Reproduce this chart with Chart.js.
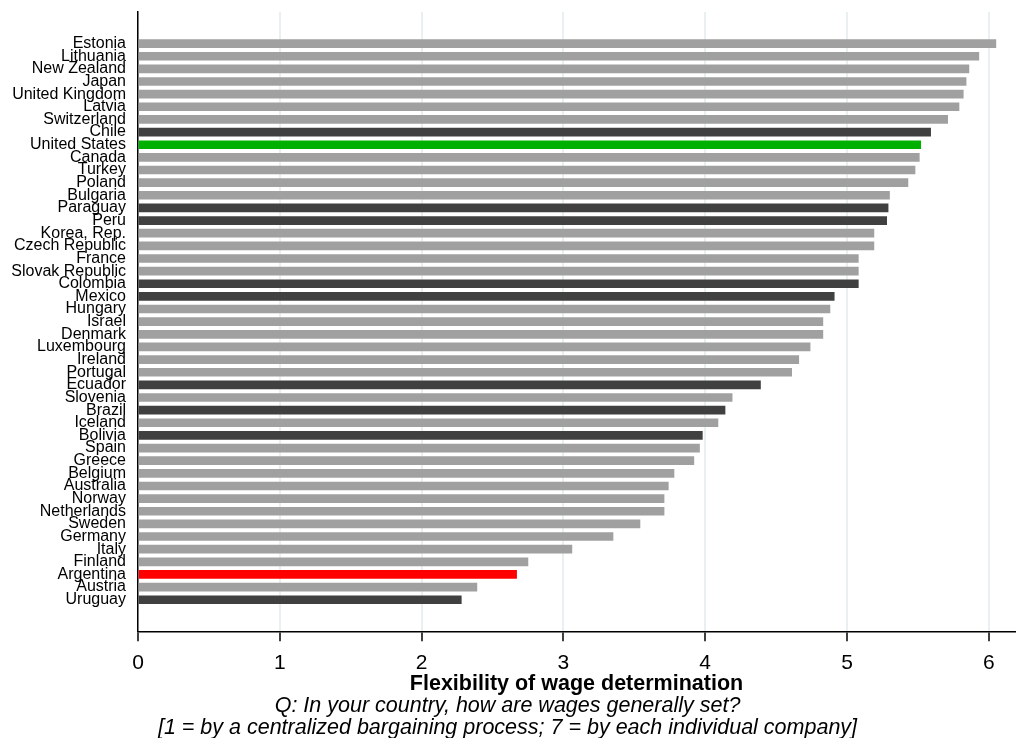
<!DOCTYPE html>
<html>
<head>
<meta charset="utf-8">
<script src="https://cdn.jsdelivr.net/npm/chart.js@4"></script>
<style>
  html, body { margin: 0; padding: 0; background: #ffffff; }
  #wrap { width: 1017px; height: 738px; }
</style>
</head>
<body>
<div id="wrap"><canvas id="c"></canvas></div>
<script>
const countries = ["Estonia","Lithuania","New Zealand","Japan","United Kingdom","Latvia","Switzerland","Chile","United States","Canada","Turkey","Poland","Bulgaria","Paraguay","Peru","Korea, Rep.","Czech Republic","France","Slovak Republic","Colombia","Mexico","Hungary","Israel","Denmark","Luxembourg","Ireland","Portugal","Ecuador","Slovenia","Brazil","Iceland","Bolivia","Spain","Greece","Belgium","Australia","Norway","Netherlands","Sweden","Germany","Italy","Finland","Argentina","Austria","Uruguay"];
const values = [6.05,5.93,5.86,5.84,5.82,5.79,5.71,5.59,5.52,5.51,5.48,5.43,5.30,5.29,5.28,5.19,5.19,5.08,5.08,5.08,4.91,4.88,4.83,4.83,4.74,4.66,4.61,4.39,4.19,4.14,4.09,3.98,3.96,3.92,3.78,3.74,3.71,3.71,3.54,3.35,3.06,2.75,2.67,2.39,2.28];
const groups = ["other","other","other","other","other","other","other","latam","us","other","other","other","other","latam","latam","other","other","other","other","latam","latam","other","other","other","other","other","other","latam","other","latam","other","latam","other","other","other","other","other","other","other","other","other","other","argentina","other","latam"];
const xTicks = [0,1,2,3,4,5,6];
const xTitle = "Flexibility of wage determination";
const subtitleLines = ["Q: In your country, how are wages generally set?","[1 = by a centralized bargaining process; 7 = by each individual company]"];

const groupColor = { other: "#a0a0a0", latam: "#404040", us: "#00b000", argentina: "#ff0000" };
const FONT = "'Liberation Sans', Arial, Helvetica, sans-serif";

const ctx = document.getElementById('c');
new Chart(ctx, {
  type: 'bar',
  data: {
    datasets: [{
      data: values.map((v, i) => ({ x: v, y: i })),
      backgroundColor: groups.map(g => groupColor[g]),
      borderWidth: 0,
      barThickness: 8
    }]
  },
  options: {
    indexAxis: 'y',
    responsive: true,
    maintainAspectRatio: false,
    animation: false,
    layout: { padding: { top: 12, right: 2, left: 0, bottom: 0 } },
    plugins: {
      legend: { display: false },
      tooltip: { enabled: false },
      title: { display: false },
      subtitle: {
        display: true,
        position: 'bottom',
        text: subtitleLines,
        color: '#000',
        font: { family: FONT, size: 21.5, style: 'italic', lineHeight: 1.023 },
        padding: { top: 0, bottom: -1.5 }
      }
    },
    scales: {
      x: {
        type: 'linear',
        min: 0,
        max: 6.185,
        afterBuildTicks: (s) => { s.ticks = xTicks.map(v => ({ value: v })); },
        ticks: {
          includeBounds: false,
          color: '#000',
          font: { family: FONT, size: 21 },
          padding: 9,
          maxRotation: 0
        },
        grid: {
          color: '#e8f0f1',
          lineWidth: 2,
          drawTicks: true,
          tickColor: '#000',
          tickLength: 10,
          tickWidth: 1.5
        },
        border: { display: true, color: '#000', width: 1.5 },
        title: {
          display: true,
          text: xTitle,
          color: '#000',
          font: { family: FONT, size: 21.5, weight: 'bold', lineHeight: 1.023 },
          padding: { top: -11, bottom: 0 }
        }
      },
      y: {
        type: 'linear',
        reverse: true,
        offset: false,
        min: -2.5,
        max: 46.5,
        afterBuildTicks: (s) => { s.ticks = countries.map((c, i) => ({ value: i })); },
        afterFit: (s) => { s.width = 138; s.paddingTop = 0; s.paddingBottom = 0; },
        ticks: {
          autoSkip: false,
          color: '#000',
          font: { family: FONT, size: 16 },
          padding: 12,
          callback: (v) => countries[v] !== undefined ? countries[v] : ''
        },
        grid: { display: false, drawTicks: false, offset: false },
        border: { display: true, color: '#000', width: 1.5 }
      }
    }
  }
});
</script>
</body>
</html>
